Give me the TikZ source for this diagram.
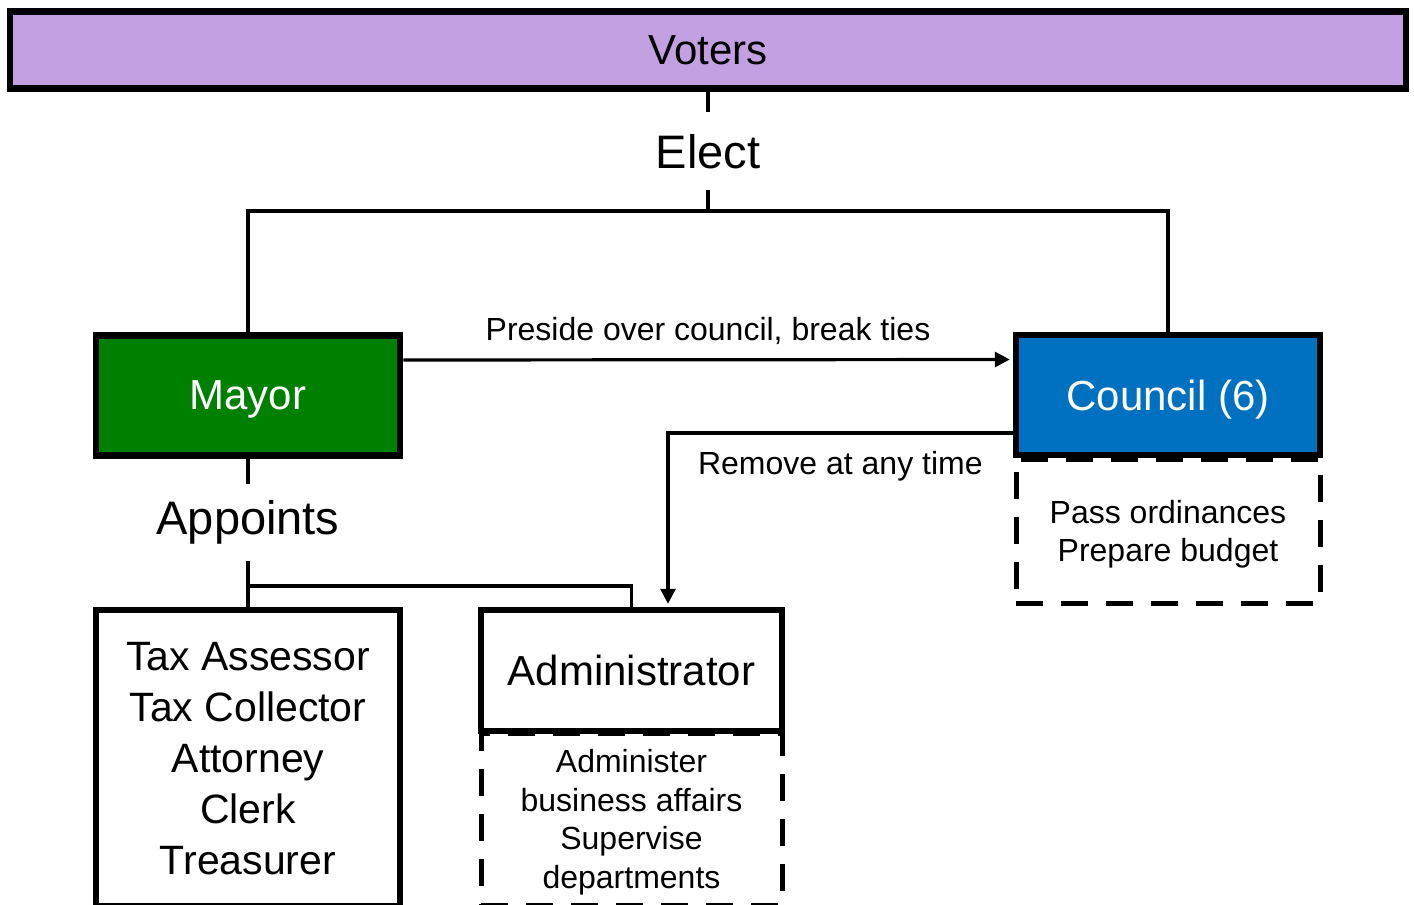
\documentclass[tikz,border=0pt]{standalone}
\usepackage{fontspec}
\setmainfont{Liberation Sans}
\usepackage{xcolor}
\usetikzlibrary{arrows.meta}

\definecolor{voterpurple}{RGB}{194,160,225}
\definecolor{mayorgreen}{RGB}{0,128,0}
\definecolor{councilblue}{RGB}{0,112,192}

\begin{document}
\begin{tikzpicture}[x=1pt,y=-1pt]
	\tikzstyle{office}=[draw, line width=6.5pt, inner sep=0pt, text depth=0pt, minimum width=304pt, minimum height=120pt, align=center, font=\fontsize{42}{52}\selectfont]
	\tikzstyle{duties}=[draw, line width=5pt, dash pattern=on 27pt off 18pt, inner sep=0pt, text depth=0pt, minimum width=304pt, align=center, font=\fontsize{32}{38.5}\selectfont]
	\tikzstyle{verb}=[fill=white, inner sep=0pt, minimum height=78pt, font=\fontsize{47}{56}\selectfont]
	\tikzstyle{note}=[inner sep=0pt, font=\fontsize{32}{38}\selectfont]
	\tikzset{edge/.style = {-, line width=3.2pt}}
	\tikzset{pointer/.style = {edge, -{Triangle[length=15pt,width=15pt]}, shorten >=3pt}}

	\useasboundingbox (0,0) rectangle (1414,905);

	% voters
	\node[office, fill=voterpurple, minimum width=1396pt, minimum height=77pt](voters) at (708,50) {Voters};
	\coordinate (split) at (708,211);

	% mayor + council
	\node[office, fill=mayorgreen, text=white](mayor) at (248,395.5) {Mayor};
	\node[duties, minimum height=144pt](councilduties) at (1168,531) {Pass ordinances\\Prepare budget};
	\node[office, fill=councilblue, text=white](council) at (1168,395) {Council (6)};

	% appointed
	\coordinate (fork) at (248,586);
	\node[office, minimum height=296pt, font=\fontsize{41}{51}\selectfont](staff) at (248,758) {Tax Assessor\\Tax Collector\\Attorney\\Clerk\\Treasurer};
	\node[duties, minimum width=301pt, minimum height=172pt](adminduties) at (631.5,819) {Administer\\business affairs\\Supervise\\departments};
	\node[office, minimum width=301pt, minimum height=121pt](admin) at (631.5,670.5) {Administrator};

	% connectors
	\draw[edge](voters) -- node[verb]{Elect} (split);
	\draw[edge](mayor.north) |- (split) -| (council.north);
	\draw[pointer]([yshift=35.5pt]mayor.east) -- node[note, above=14pt]{Preside over council, break ties} ([yshift=35.5pt]council.west);
	\draw[pointer]([yshift=-38pt]council.west) -| node[note, pos=0.25, below=17pt]{Remove at any time} ([xshift=36.5pt]admin.north);
	\draw[edge](mayor) -- node[verb, minimum height=77pt]{Appoints} (fork);
	\draw[edge](fork) -- (staff.north);
	\draw[edge](fork) -| (admin.north);
\end{tikzpicture}
\end{document}
